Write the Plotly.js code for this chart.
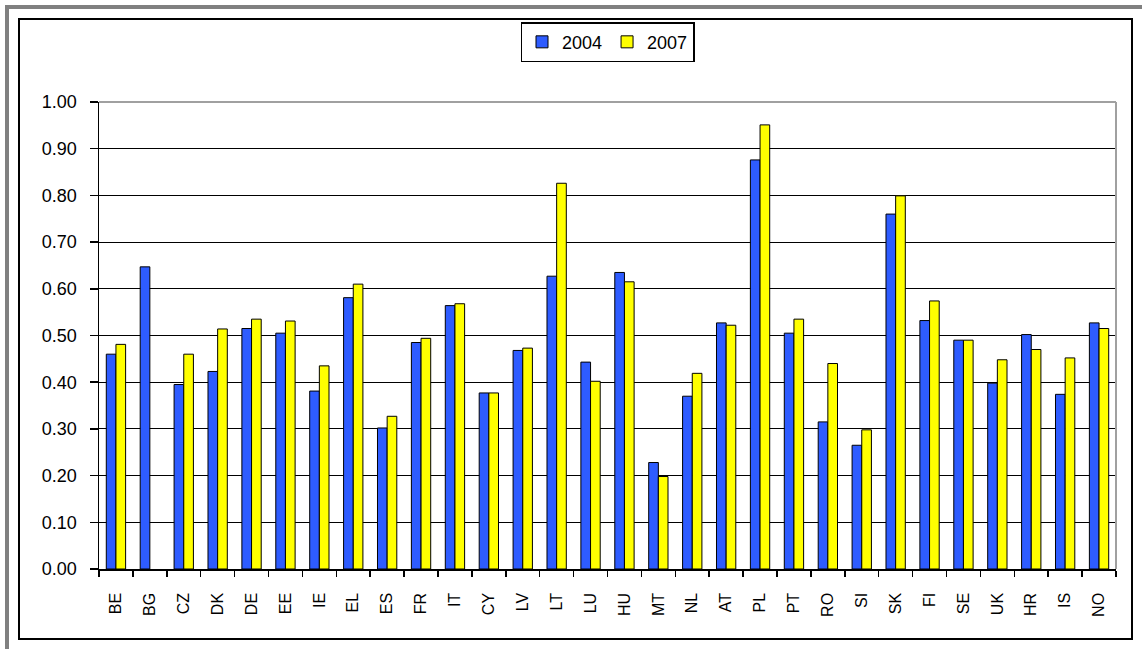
<!DOCTYPE html>
<html>
<head>
<meta charset="utf-8">
<script src="https://cdn.plot.ly/plotly-3.0.1.min.js"></script>
<style>
  html, body { margin:0; padding:0; background:#fff; }
  #wrap { position:relative; width:1142px; height:649px; overflow:hidden; }
  #grayTop { position:absolute; left:5px; top:5px; width:1137px; height:4px; background:#808080; }
  #grayLeft { position:absolute; left:5px; top:5px; width:4px; height:644px; background:#808080; }
  #frame { position:absolute; left:18px; top:18px; width:1115px; height:622px; box-sizing:border-box; border:2px solid #000; }
  #chart { position:absolute; left:0; top:0; width:1142px; height:649px; }
</style>
</head>
<body>
<div id="wrap">
  <div id="grayTop"></div>
  <div id="grayLeft"></div>
  <div id="frame"></div>
  <div id="chart"></div>
</div>
<script>
const countries = ["BE","BG","CZ","DK","DE","EE","IE","EL","ES","FR","IT","CY","LV","LT","LU","HU","MT","NL","AT","PL","PT","RO","SI","SK","FI","SE","UK","HR","IS","NO"];
const values2004 = [0.460,0.647,0.395,0.423,0.515,0.505,0.381,0.581,0.302,0.485,0.564,0.377,0.468,0.627,0.443,0.635,0.228,0.370,0.527,0.876,0.505,0.315,0.265,0.760,0.532,0.490,0.398,0.502,0.374,0.527];
const values2007 = [0.481,null,0.460,0.514,0.535,0.531,0.435,0.610,0.327,0.494,0.568,0.377,0.473,0.826,0.402,0.615,0.198,0.419,0.522,0.951,0.535,0.440,0.298,0.799,0.574,0.490,0.448,0.470,0.452,0.515];
const yTickVals = [0,0.1,0.2,0.3,0.4,0.5,0.6,0.7,0.8,0.9,1.0];

const traces = [
  { type:"bar", name:"2004", x:countries, y:values2004,
    marker:{ color:"#2E5CFF", line:{ color:"#000", width:1 } } },
  { type:"bar", name:"2007", x:countries, y:values2007,
    marker:{ color:"#FFFF00", line:{ color:"#000", width:1 } } }
];

const layout = {
  width:1142, height:649,
  paper_bgcolor:"rgba(0,0,0,0)", plot_bgcolor:"#fff",
  margin:{ l:99, r:26, t:102, b:80 },
  barmode:"group", bargap:0.43, bargroupgap:0,
  font:{ family:"Liberation Sans, Arial, sans-serif", color:"#000" },
  showlegend:true,
  legend:{ orientation:"h", x:0.5, xanchor:"center", y:1.171, yanchor:"top",
           bordercolor:"#000", borderwidth:1.5, bgcolor:"#fff",
           font:{ size:18, color:"#000" }, traceorder:"normal" },
  xaxis:{ type:"category", showline:true, linecolor:"#000", linewidth:1.5,
          ticks:"outside", tickson:"boundaries", ticklen:6, tickcolor:"#000", tickwidth:1.5,
          tickangle:-90, tickfont:{ size:16, color:"#000" }, ticklabelstandoff:16,
          showgrid:false, zeroline:false, fixedrange:true },
  yaxis:{ range:[0,1], tickvals:yTickVals, tickformat:".2f",
          showline:true, linecolor:"#000", linewidth:1.5,
          ticks:"outside", ticklen:8, tickcolor:"#000", tickwidth:1.5,
          tickfont:{ size:18, color:"#000" }, ticklabelstandoff:9,
          showgrid:true, gridcolor:"#000", gridwidth:1, zeroline:false, fixedrange:true },
  shapes:[
    { type:"line", xref:"paper", yref:"paper", x0:0, x1:1, y0:1, y1:1,
      line:{ color:"#a0a0a0", width:2 }, layer:"above" },
    { type:"line", xref:"paper", yref:"paper", x0:1, x1:1, y0:0, y1:1,
      line:{ color:"#a0a0a0", width:2 }, layer:"above" }
  ]
};

Plotly.newPlot("chart", traces, layout, { displayModeBar:false, staticPlot:true });
</script>
</body>
</html>
